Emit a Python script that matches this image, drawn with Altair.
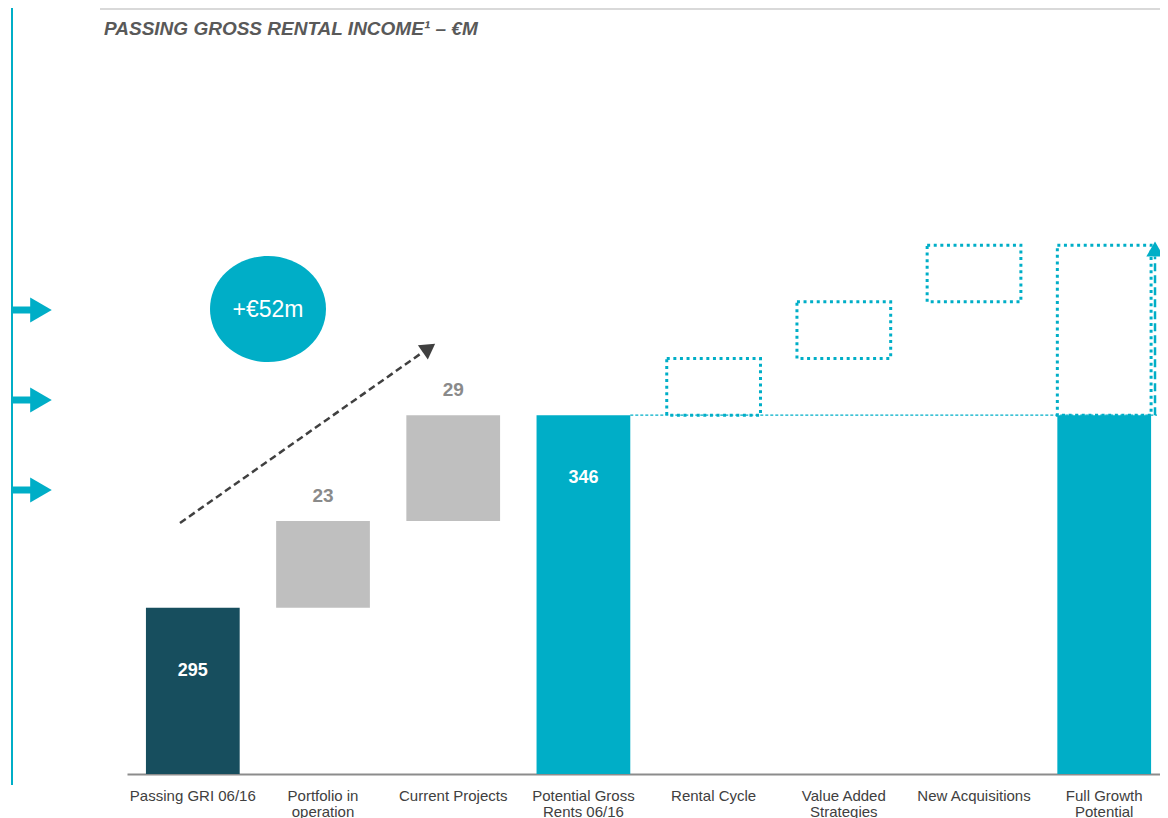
import altair as alt
import pandas as pd

# ---------------- data ----------------
categories = [
    "Passing GRI 06/16", "Portfolio in\noperation", "Current Projects",
    "Potential Gross\nRents 06/16", "Rental Cycle", "Value Added\nStrategies",
    "New Acquisitions", "Full Growth\nPotential",
]

# solid waterfall bars (EUR m)
bar_cats = [categories[i] for i in (0, 1, 2, 3, 7)]
bar_low = [251, 295, 318, 251, 251]
bar_high = [295, 318, 346, 346, 346]
bar_kind = ["Passing", "Increase", "Increase", "Total", "Total"]

# labels
total_label_cats = [categories[0], categories[3]]
total_label_vals = [295, 346]
inc_label_cats = [categories[1], categories[2]]
inc_label_tops = [318, 346]
inc_label_vals = [23, 29]

# potential (dotted) boxes
pot_cats = [categories[i] for i in (4, 5, 6, 7)]
pot_low = [346, 361, 376, 346]
pot_high = [361, 376, 391, 391]

potential_level = 346
growth_top = 390
axis_floor = 251
axis_top = 444

TITLE = "PASSING GROSS RENTAL INCOME¹ – €M"
TEAL = "#00aec7"
DARK = "#174e5e"
GREY = "#bfbfbf"

W, H = 1033, 729

df_bars = pd.DataFrame({"cat": bar_cats, "low": bar_low, "high": bar_high, "kind": bar_kind})
df_tot = pd.DataFrame({"cat": total_label_cats, "val": total_label_vals})
df_inc = pd.DataFrame({"cat": inc_label_cats, "top": inc_label_tops, "val": inc_label_vals})
df_pot = pd.DataFrame({"cat": pot_cats, "low": pot_low, "high": pot_high})
df_level = pd.DataFrame({"cat": [categories[3]], "level": [potential_level]})
df_one = pd.DataFrame({"k": [0]})

xscale = alt.Scale(domain=categories, paddingInner=0.28, paddingOuter=0.107, align=0.68)
yscale = alt.Scale(domain=[axis_floor, axis_top], zero=False, nice=False)

X_axis = alt.X(
    "cat:N", scale=xscale,
    axis=alt.Axis(title=None, labelExpr="split(datum.label, '\\n')", labelAngle=0,
                  ticks=False, domainColor="#8c8c8c", domainWidth=2,
                  labelFont="Liberation Sans", labelFontSize=15, labelColor="#404040",
                  labelPadding=14, labelLineHeight=16, grid=False),
)
X_plain = alt.X("cat:N", scale=xscale)

bars = alt.Chart(df_bars).mark_bar().encode(
    x=X_axis,
    y=alt.Y("low:Q", scale=yscale),
    y2="high:Q",
    color=alt.Color("kind:N", scale=alt.Scale(domain=["Passing", "Increase", "Total"],
                                              range=[DARK, GREY, TEAL]), legend=None),
)

pot = alt.Chart(df_pot).mark_bar(filled=False, color=TEAL, stroke=TEAL, strokeWidth=3,
                                 strokeDash=[3, 3.6]).encode(
    x=X_plain, y=alt.Y("low:Q", scale=yscale), y2="high:Q")

level_line = alt.Chart(df_level).mark_rule(color=TEAL, strokeWidth=1.2, strokeDash=[3, 2]).encode(
    x=alt.X("cat:N", scale=xscale, bandPosition=1),
    x2=alt.value(1030),
    y=alt.Y("level:Q", scale=yscale),
)

up_line = alt.Chart(df_one).mark_rule(color=TEAL, strokeWidth=2.5, strokeDash=[8, 4]).encode(
    x=alt.value(1028), y=alt.datum(potential_level), y2=alt.datum(growth_top - 2))
up_head = alt.Chart(df_one).mark_point(shape="triangle-up", filled=True, size=300,
                                       color=TEAL, opacity=1).encode(
    x=alt.value(1028), y=alt.datum(growth_top))

tot_text = alt.Chart(df_tot).mark_text(color="white", fontWeight="bold", font="Liberation Sans",
                                       fontSize=18, baseline="middle", dy=63).encode(
    x=X_plain, y=alt.Y("val:Q", scale=yscale), text="val:Q")
inc_text = alt.Chart(df_inc).mark_text(color="#8a8a8a", fontWeight="bold", font="Liberation Sans",
                                       fontSize=19, baseline="middle", dy=-25).encode(
    x=X_plain, y=alt.Y("top:Q", scale=yscale), text="val:Q")

# ---------------- decorations ----------------
title_text = alt.Chart(df_one).mark_text(
    text=TITLE, font="Liberation Sans", fontSize=19, fontStyle="italic", fontWeight="bold",
    color="#595959", align="left", baseline="middle").encode(
    x=alt.value(-23), y=alt.value(-16))

bubble = alt.Chart(df_one).mark_point(
    shape="M-1,0A1,0.914,0,1,0,1,0A1,0.914,0,1,0,-1,0Z", filled=True, size=13456,
    color=TEAL, opacity=1).encode(x=alt.value(141), y=alt.value(264))
bubble_text = alt.Chart(df_one).mark_text(text="+€52m", color="white", font="Liberation Sans",
                                          fontSize=23, baseline="middle", align="center").encode(
    x=alt.value(141), y=alt.value(265))

trend_line = alt.Chart(df_one).mark_rule(color="#404040", strokeWidth=2.5, strokeDash=[7, 4]).encode(
    x=alt.value(53), y=alt.value(478), x2=alt.value(296), y2=alt.value(307))
trend_head = alt.Chart(df_one).mark_point(shape="triangle-up", filled=True, size=300, angle=55,
                                          color="#404040", opacity=1).encode(
    x=alt.value(302), y=alt.value(303))

left_line = alt.Chart(df_one).mark_rule(color=TEAL, strokeWidth=2).encode(
    x=alt.value(-115), y=alt.value(-37), y2=alt.value(740))
top_line = alt.Chart(df_one).mark_rule(color="#d9d9d9", strokeWidth=2).encode(
    x=alt.value(-27), x2=alt.value(W), y=alt.value(-36))

deco = [left_line, top_line, title_text]
for yy in (265, 355, 445):
    deco.append(alt.Chart(df_one).mark_rule(color=TEAL, strokeWidth=7).encode(
        x=alt.value(-115), x2=alt.value(-95), y=alt.value(yy)))
    deco.append(alt.Chart(df_one).mark_point(shape="triangle-right", filled=True, size=620,
                                             color=TEAL, opacity=1).encode(
        x=alt.value(-86), y=alt.value(yy)))

chart = alt.layer(
    bars, level_line, pot, up_line, up_head, tot_text, inc_text,
    bubble, bubble_text, trend_line, trend_head, *deco,
).properties(
    width=W, height=H,
    autosize=alt.AutoSizeParams(type="none"),
    padding={"left": 119, "top": 37, "right": 0, "bottom": 44},
).configure_view(stroke=None).configure_axisY(disable=True)

chart.save("out.html", embed_options={"renderer": "svg", "actions": False})
